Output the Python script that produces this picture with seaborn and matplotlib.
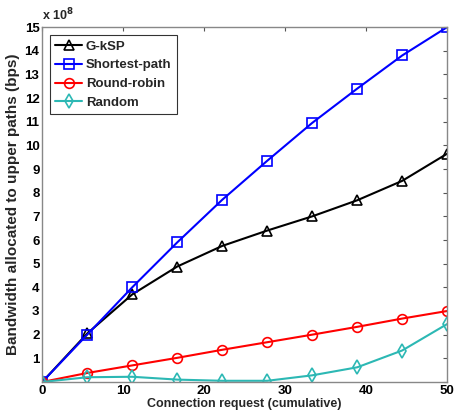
import pandas as pd
import matplotlib
matplotlib.use("Agg")
import matplotlib.pyplot as plt
import seaborn as sns

# connection requests (cumulative) and bandwidth (bps, in units of 1e8)
requests = [0, 5.56, 11.11, 16.67, 22.22, 27.78, 33.33, 38.89, 44.44, 50]
gksp = [0, 2.05, 3.7, 4.88, 5.75, 6.4, 7.0, 7.68, 8.5, 9.65]
shortest = [0, 2.0, 4.0, 5.9, 7.7, 9.35, 10.95, 12.4, 13.8, 15.0]
round_robin = [0, 0.38, 0.7, 1.02, 1.36, 1.68, 2.0, 2.33, 2.68, 3.0]
random_alloc = [0, 0.2, 0.22, 0.1, 0.05, 0.05, 0.28, 0.62, 1.33, 2.45]

series_names = ["G-kSP", "Shortest-path", "Round-robin", "Random"]
series_values = [gksp, shortest, round_robin, random_alloc]
colors = ["black", "#0000ff", "#ff0000", "#2cb8b4"]
markers = ["^", "s", "o", "d"]
yticks = list(range(0, 16))
ytick_labels = [str(i) if i > 0 else "" for i in yticks]

sns.set_style("white")
plt.rcParams["font.family"] = ["Liberation Sans", "DejaVu Sans"]
plt.rcParams["font.weight"] = "bold"
plt.rcParams["mathtext.default"] = "bf"

fig = plt.figure(figsize=(4.54, 4.17), dpi=100)
ax = fig.add_axes([0.093, 0.084, 0.892, 0.851])

for name, vals, c, m in zip(series_names, series_values, colors, markers):
    df = pd.DataFrame({"x": requests, "y": vals})
    sns.lineplot(data=df, x="x", y="y", ax=ax, color=c, marker=m, markersize=7,
                 markerfacecolor="none", markeredgecolor=c, markeredgewidth=1.2,
                 linewidth=1.5, label=name)

ax.set_xlim(0, 50)
ax.set_ylim(0, 15)
ax.set_xticks([0, 10, 20, 30, 40, 50])
ax.set_yticks(yticks)
ax.set_yticklabels(ytick_labels)

ax.text(0.0, 1.012, r"x 10$^{8}$", transform=ax.transAxes, fontsize=9,
        fontweight="bold", ha="left", va="bottom")

ax.tick_params(direction="in", length=3, labelsize=9.5, top=True, right=True,
               colors="#555555", labelcolor="black", pad=2)
for lab in ax.get_xticklabels() + ax.get_yticklabels():
    lab.set_fontweight("bold")
for s in ax.spines.values():
    s.set_color("#888888")
    s.set_linewidth(1.0)

ax.set_xlabel("Connection request (cumulative)", fontsize=9, fontweight="bold", labelpad=1)
ax.set_ylabel("Bandwidth allocated to upper paths (bps)", fontsize=11, fontweight="bold", labelpad=3)

leg = ax.legend(loc="upper left", fontsize=9.5, frameon=True, fancybox=False,
                borderpad=0.4, labelspacing=0.5, handlelength=2.0, handletextpad=0.3,
                borderaxespad=0.6)
leg.get_frame().set_edgecolor("black")
leg.get_frame().set_linewidth(0.8)
for t in leg.get_texts():
    t.set_fontweight("bold")

fig.savefig("out.png", dpi=100)
